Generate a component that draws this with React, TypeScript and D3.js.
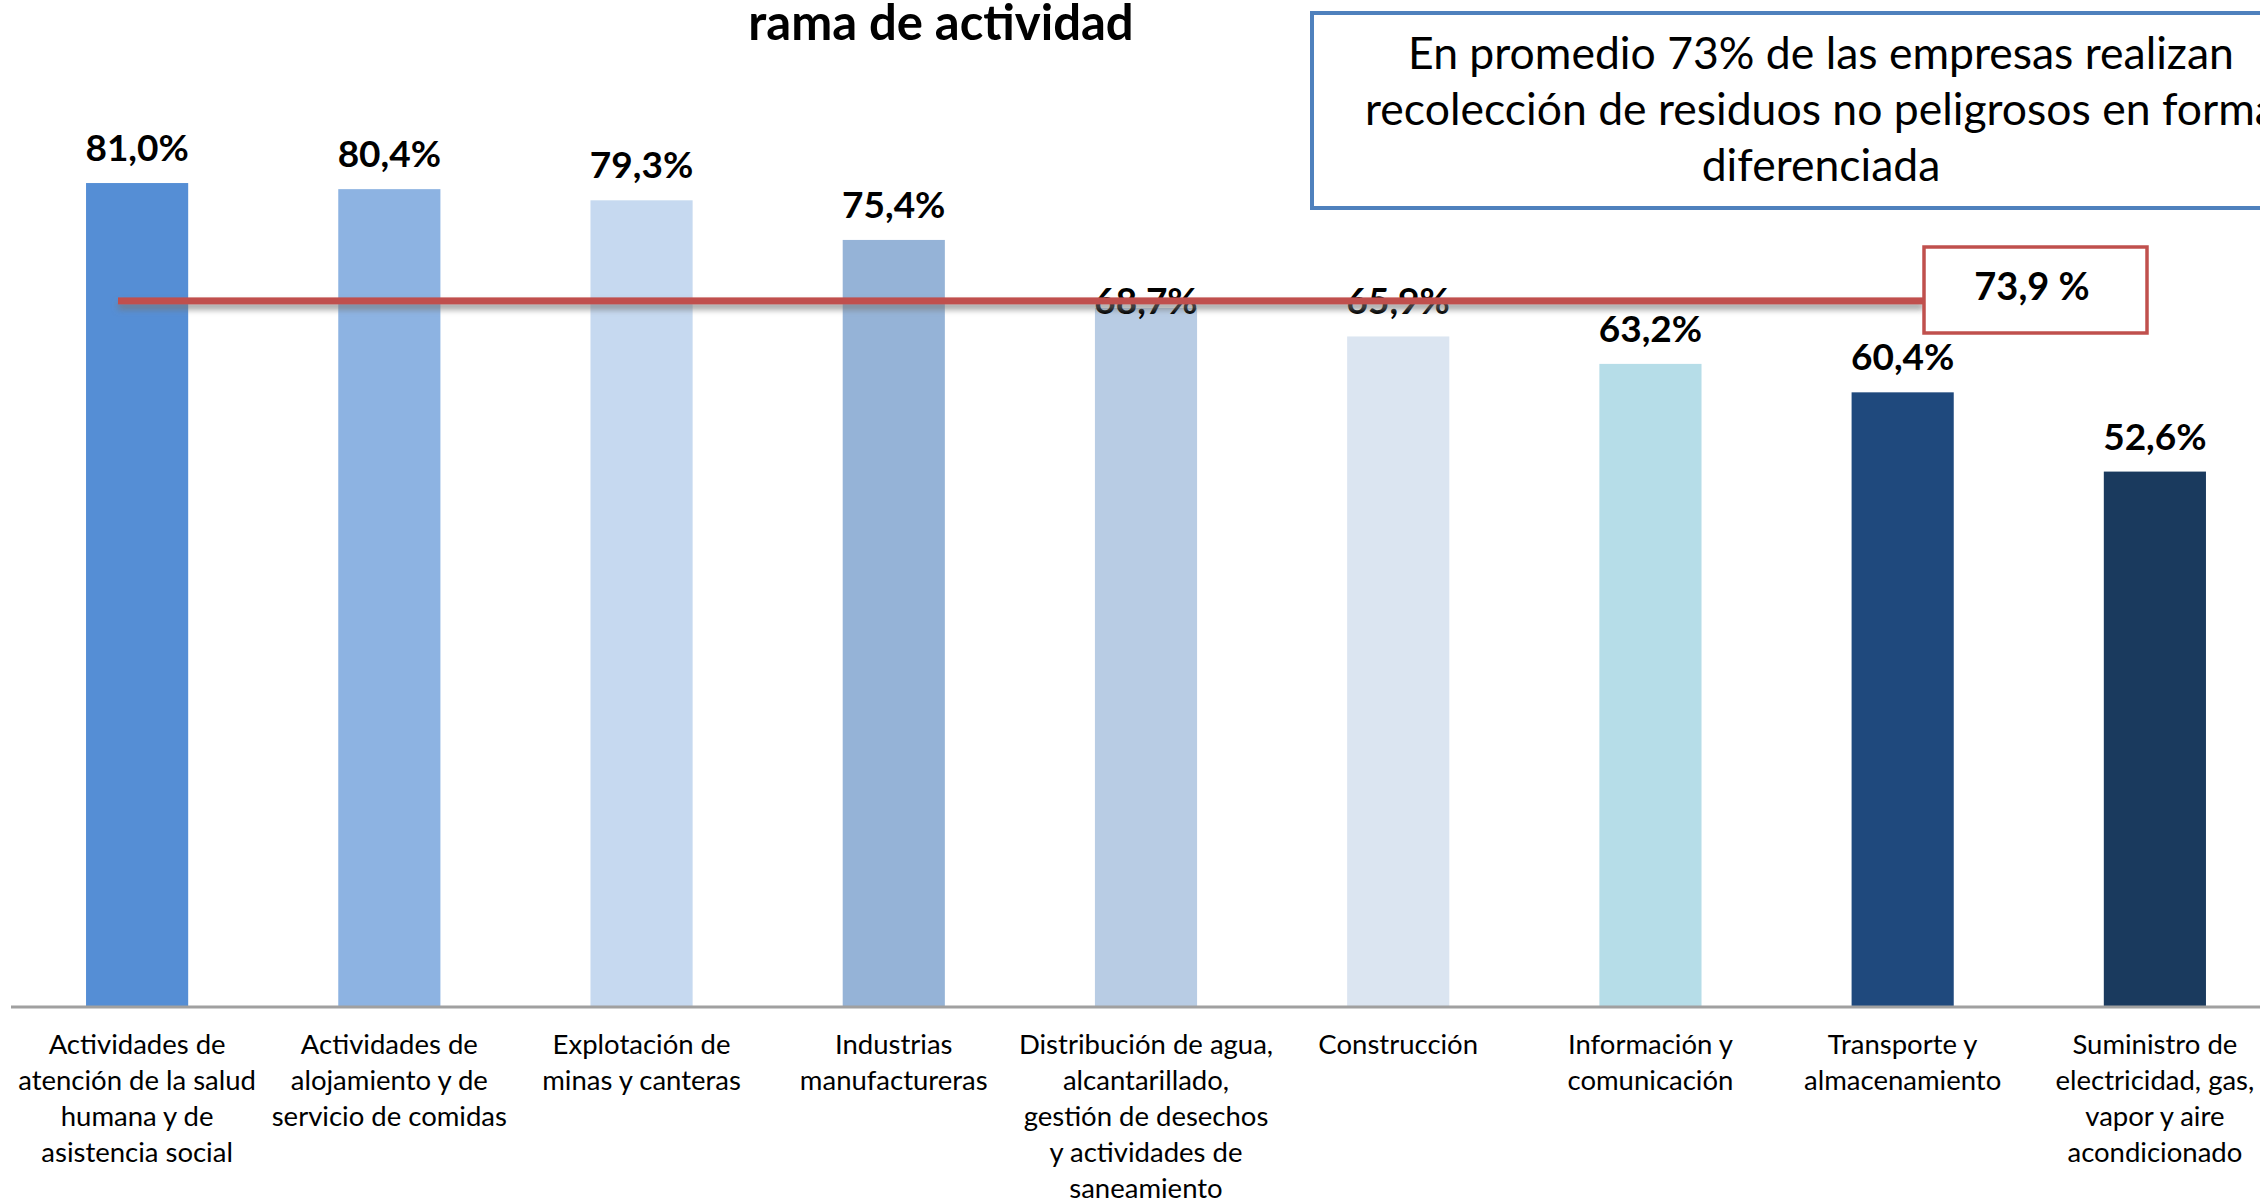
import * as d3 from "d3";

// values
const categories = [
  "Actividades de atención de la salud humana y de asistencia social",
  "Actividades de alojamiento y de servicio de comidas",
  "Explotación de minas y canteras",
  "Industrias manufactureras",
  "Distribución de agua, alcantarillado, gestión de desechos y actividades de saneamiento",
  "Construcción",
  "Información y comunicación",
  "Transporte y almacenamiento",
  "Suministro de electricidad, gas, vapor y aire acondicionado",
];

const labelLines = [
  ["Actividades de", "atención de la salud", "humana y de", "asistencia social"],
  ["Actividades de", "alojamiento y de", "servicio de comidas"],
  ["Explotación de", "minas y canteras"],
  ["Industrias", "manufactureras"],
  ["Distribución de agua,", "alcantarillado,", "gestión de desechos", "y actividades de", "saneamiento"],
  ["Construcción"],
  ["Información y", "comunicación"],
  ["Transporte y", "almacenamiento"],
  ["Suministro de", "electricidad, gas,", "vapor y aire", "acondicionado"],
];

const values = [81.0, 80.4, 79.3, 75.4, 68.7, 65.9, 63.2, 60.4, 52.6];

const barColors = [
  "#558ED5", "#8DB3E2", "#C6D9F0", "#95B3D7", "#B8CCE4",
  "#DBE5F1", "#B6DDE8", "#1F497D", "#1A3A5E",
];

const averageLabel = "73,9 %";
// the red line is drawn by hand in the original, it sits near 69.4
const averageLineAt = 69.4;

const titleText = "rama de actividad";
const noteLines = [
  "En promedio 73% de las empresas realizan",
  "recolección de residuos no peligrosos en forma",
  "diferenciada",
];

const fmt = (v: number) => v.toFixed(1).replace(".", ",") + "%";

export default function App() {
  const width = 2260;
  const height = 1199;
  const baseY = 1006;
  const font = "Lato, 'Open Sans', sans-serif";

  const x = d3.scaleBand<number>()
    .domain(d3.range(categories.length))
    .range([11, 2281])
    .paddingInner(0.595)
    .paddingOuter(0.2975);

  const y = d3.scaleLinear().domain([0, 100]).range([baseY, -10]);

  const lineY = y(averageLineAt);

  return (
    <svg width={width} height={height} style={{ position: "absolute", left: 0, top: 0 }}
      fontFamily={font}>
      <defs>
        <filter id="shadow" filterUnits="userSpaceOnUse" x="0" y="250" width="2000" height="100">
          <feDropShadow dx="0" dy="5" stdDeviation="3" floodColor="#777" floodOpacity="0.75" />
        </filter>
      </defs>
      <rect width={width} height={height} fill="#fff" />

      <text x={941} y={40} textAnchor="middle" fontWeight="bold" fontSize={49}>{titleText}</text>

      {/* note box */}
      <rect x={1312} y={13} width={1020} height={195} fill="#fff" stroke="#4F81BD" strokeWidth={4} />
      {noteLines.map((t, i) => (
        <text key={i} x={1821} y={69 + i * 56} textAnchor="middle" fontSize={44.5}>{t}</text>
      ))}

      {/* bars */}
      {values.map((v, i) => (
        <rect key={categories[i]} x={x(i)} y={y(v)} width={x.bandwidth()} height={baseY - y(v)} fill={barColors[i]} />
      ))}

      {/* axis line */}
      <line x1={11} x2={width} y1={baseY + 1} y2={baseY + 1} stroke="#A0A0A0" strokeWidth={3} />

      {/* value labels */}
      {values.map((v, i) => (
        <text key={"v" + i} x={x(i)! + x.bandwidth() / 2} y={y(v) - 22 + (i === 4 ? 28 : 0)}
          textAnchor="middle" fontWeight="bold" fontSize={37}>{fmt(v)}</text>
      ))}

      {/* category labels */}
      {labelLines.map((lines, i) => (
        <text key={"c" + i} x={x(i)! + x.bandwidth() / 2} y={1054} textAnchor="middle" fontSize={27.5}>
          {lines.map((l, j) => (
            <tspan key={j} x={x(i)! + x.bandwidth() / 2} dy={j === 0 ? 0 : 36}>{l}</tspan>
          ))}
        </text>
      ))}

      {/* average line */}
      <rect x={118} y={lineY - 3.5} width={1924 - 118} height={7} fill="#C0504D" filter="url(#shadow)" />
      <rect x={1924} y={247} width={223} height={86} fill="#fff" stroke="#C0504D" strokeWidth={3.5} />
      <text x={2032} y={300} textAnchor="middle" fontWeight="bold" fontSize={38}>{averageLabel}</text>
    </svg>
  );
}
